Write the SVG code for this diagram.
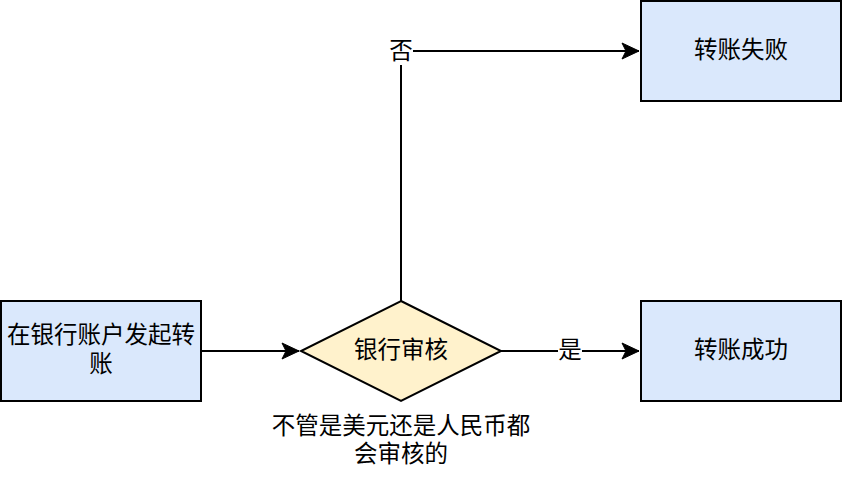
<svg xmlns="http://www.w3.org/2000/svg" width="842" height="482" viewBox="0 0 842 482">
<style>
.box{fill:#dae8fc;stroke:#000;stroke-width:2}
.dia{fill:#fff2cc;stroke:#000;stroke-width:2}
.edge{fill:none;stroke:#000;stroke-width:2}
text{font-family:"Noto Sans CJK SC","Noto Sans",sans-serif;font-size:23.5px;fill:#000;text-anchor:middle;dominant-baseline:central}
.lblbg{fill:#fff}
</style>
<defs>
<marker id="arr" markerUnits="userSpaceOnUse" markerWidth="20" markerHeight="20" viewBox="-18 -10 20 20" refX="0" refY="0" orient="auto">
<path d="M0,0 L-17,-8 L-13,0 L-17,8 Z" fill="#000" stroke="#000" stroke-width="1"/>
</marker>
</defs>
<rect width="842" height="482" fill="#fff"/>
<g id="edges">
<path class="edge" d="M201,351 L299,351" marker-end="url(#arr)"/>
<path class="edge" d="M501,351 L639,351" marker-end="url(#arr)"/>
<path class="edge" d="M401,301 L401,51 L639,51" marker-end="url(#arr)"/>
<rect class="lblbg" x="558" y="338" width="24" height="26"/>
<text x="570" y="348">是</text>
<rect class="lblbg" x="389" y="37" width="24" height="28"/>
<text x="401" y="49">否</text>
</g>
<g id="start">
<rect class="box" x="1" y="301" width="200" height="100"/>
<text x="101" y="333">在银行账户发起转<tspan x="101" dy="29">账</tspan></text>
</g>
<g id="review">
<path class="dia" d="M401,301 L501,351 L401,401 L301,351 Z"/>
<text x="401" y="348">银行审核</text>
</g>
<g id="success">
<rect class="box" x="641" y="301" width="200" height="100"/>
<text x="741" y="348">转账成功</text>
</g>
<g id="fail">
<rect class="box" x="641" y="1" width="200" height="100"/>
<text x="741" y="48">转账失败</text>
</g>
<g id="note">
<text x="401" y="424">不管是美元还是人民币都<tspan x="401" dy="28">会审核的</tspan></text>
</g>
</svg>
